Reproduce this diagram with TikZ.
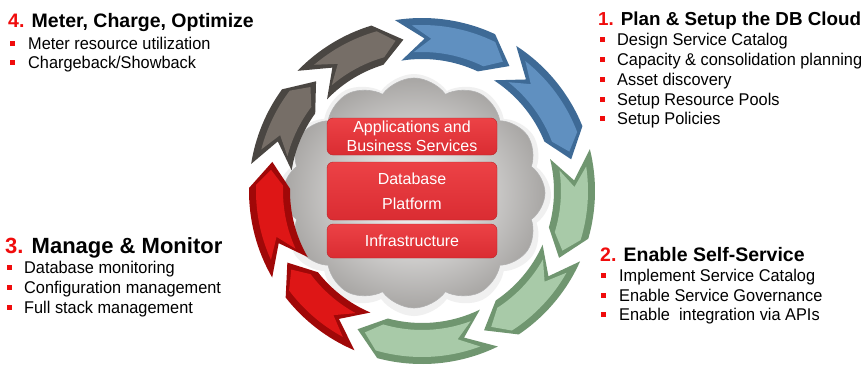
\documentclass[tikz,border=0pt]{standalone}
\usepackage{fontspec}
\setmainfont{Liberation Sans}
\newfontfamily\bodyfont[FakeStretch=0.96]{Liberation Sans}
\usetikzlibrary{shapes.symbols}
\definecolor{tred}{RGB}{240,12,12}
\definecolor{blueD}{RGB}{62,106,150}
\definecolor{blueM}{RGB}{96,144,192}
\definecolor{greenD}{RGB}{112,150,112}
\definecolor{greenM}{RGB}{168,202,168}
\definecolor{redD}{RGB}{160,8,8}
\definecolor{redM}{RGB}{222,22,22}
\definecolor{grayD}{RGB}{74,70,66}
\definecolor{grayM}{RGB}{118,110,103}
\definecolor{boxtop}{RGB}{236,66,70}
\definecolor{boxbot}{RGB}{218,44,50}
\definecolor{cloudout}{RGB}{168,166,164}
\tikzset{
  title/.style={anchor=base west, inner sep=0, font=\fontsize{19.5}{22}\selectfont\bfseries},
  item/.style={anchor=base west, inner sep=0, font=\bodyfont\fontsize{17}{20}\selectfont},
  bul/.style={fill=tred, minimum size=5pt, inner sep=0},
  layer/.style={rounded corners=6pt, top color=boxtop, bottom color=boxbot, draw=boxbot!85!black,
    line width=0.4pt, minimum width=170pt, inner sep=0, align=center, text=white,
    font=\fontsize{16}{19}\selectfont},
  cloudbase/.style={cloud, cloud puffs=12, cloud puff arc=110, aspect=1.1, inner sep=0},
}
\begin{document}
\begin{tikzpicture}[x=1pt,y=-1pt]
\useasboundingbox (0,0) rectangle (868,365);
\fill[white] (0,0) rectangle (868,365);

% cloud with halo
\node[cloudbase, minimum width=274pt, minimum height=242pt, fill=black!6] (halo) at (414,195) {};
\node[cloudbase, minimum width=262pt, minimum height=230pt,
  inner color=white, outer color=cloudout, draw=black!30, line width=0.6pt] (cloud) at (414,193) {};

% ring of arrows
\begin{scope}[shift={(422,191)}, y=1pt]
\foreach \s/\t/\cd/\cm in {99/55/blueD/blueM, 57/12/blueD/blueM, 14/-26/greenD/greenM,
   -24/-66/greenD/greenM, -64/-115/greenD/greenM, -113/-152/redD/redM, -150/-191/redD/redM,
   171/134/grayD/grayM, 136/97/grayD/grayM}{
  \pgfmathsetmacro\e{\t+10}
  \pgfmathsetmacro\n{\s-10}
  \fill[\cd] (\s:173) arc[start angle=\s, end angle=\e, radius=173] -- (\t:152.5)
     -- (\e:132) arc[start angle=\e, end angle=\s, radius=132] -- (\n:152.5) -- cycle;
  \pgfmathsetmacro\si{\s-5.5}
  \pgfmathsetmacro\ei{\e-1.2}
  \pgfmathsetmacro\ti{\t+3}
  \pgfmathsetmacro\ni{\n-2.5}
  \fill[\cm] (\si:166) arc[start angle=\si, end angle=\ei, radius=166] -- (\ti:152.5)
     -- (\ei:139) arc[start angle=\ei, end angle=\si, radius=139] -- (\ni:152.5) -- cycle;
}
\end{scope}

% layers
\node[layer, minimum height=37pt] (app) at (412,136.5) {Applications and\\Business Services};
\node[layer, minimum height=58pt] (db) at (412,191) {Database\\[6pt]Platform};
\node[layer, minimum height=34pt] (inf) at (412,241) {Infrastructure};

% block 1
\node[title, font=\fontsize{18.8}{22}\selectfont\bfseries] (t1) at (598,25) {\textcolor{tred}{1.} Plan \& Setup the DB Cloud};
\node[bul] (b11) at (602,39) {};
\node[item] (i11) at (617,45) {Design Service Catalog};
\node[bul] (b12) at (602,59) {};
\node[item] (i12) at (617,65) {Capacity \& consolidation planning};
\node[bul] (b13) at (602,79) {};
\node[item] (i13) at (617,85) {Asset discovery};
\node[bul] (b14) at (602,99) {};
\node[item] (i14) at (617,105) {Setup Resource Pools};
\node[bul] (b15) at (602,118) {};
\node[item] (i15) at (617,124) {Setup Policies};

% block 2
\node[title] (t2) at (600,261) {\textcolor{tred}{2.} Enable Self-Service};
\node[bul] (b21) at (603.5,275) {};
\node[item] (i21) at (619,281) {Implement Service Catalog};
\node[bul] (b22) at (603.5,295) {};
\node[item] (i22) at (619,301) {Enable Service Governance};
\node[bul] (b23) at (603.5,314) {};
\node[item] (i23) at (619,320) {Enable\ \ integration via APIs};

% block 3
\node[title, font=\fontsize{22}{25}\selectfont\bfseries] (t3) at (5,253) {\textcolor{tred}{3.} Manage \& Monitor};
\node[bul] (b31) at (9,267) {};
\node[item] (i31) at (24,273) {Database monitoring};
\node[bul] (b32) at (9,287) {};
\node[item] (i32) at (24,293) {Configuration management};
\node[bul] (b33) at (9,307) {};
\node[item] (i33) at (24,313) {Full stack management};

% block 4
\node[title] (t4) at (8,27) {\textcolor{tred}{4.} Meter, Charge, Optimize};
\node[bul] (b41) at (12,43) {};
\node[item] (i41) at (28,49) {Meter resource utilization};
\node[bul] (b42) at (12,62) {};
\node[item] (i42) at (28,68) {Chargeback/Showback};
\end{tikzpicture}
\end{document}
